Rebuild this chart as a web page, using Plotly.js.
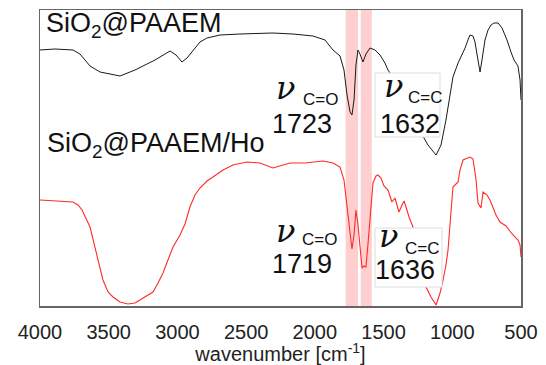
<!DOCTYPE html>
<html>
<head>
<meta charset="utf-8">
<script src="https://cdn.plot.ly/plotly-3.0.1.min.js"></script>
<style>html,body{margin:0;padding:0;background:#fff;}#chart{width:546px;height:365px;}</style>
</head>
<body>
<div id="chart"></div>
<script>
// wavenumber [cm-1] and relative transmittance (arbitrary, offset)
const wnBlack = [4000,3891,3760,3709,3636,3563,3418,3309,3163,3054,3010,2967,2930,2894,2836,2785,2690,2545,2305,2159,2014,1926,1868,1817,1788,1766,1744,1730,1715,1701,1686,1672,1650,1628,1599,1562,1526,1490,1468,1417,1344,1271,1228,1177,1118,1082,1046,1017,995,958,929,907,886,871,849,835,813,798,784,762,740,718,697,667,638,602,573,551,522,507,500];
const tBlack  = [256,257,256,252,240,234,230,236,246,255,251,244,248,254,264,268,271,272,273,272,270,266,256,250,236,211,194,191,206,241,256,252,244,252,258,256,251,243,236,226,206,184,173,161,151,161,186,211,229,243,251,258,266,271,270,264,246,234,246,266,276,281,283,283,278,266,254,246,240,226,206];

const wnRed = [4000,3891,3760,3723,3694,3636,3585,3542,3505,3469,3418,3360,3309,3272,3221,3178,3141,3105,3069,3032,2981,2945,2909,2872,2836,2785,2741,2668,2596,2494,2399,2348,2305,2232,2181,2072,1941,1868,1817,1788,1766,1744,1730,1715,1701,1686,1672,1657,1643,1628,1614,1599,1577,1555,1541,1519,1497,1468,1453,1439,1417,1402,1388,1366,1351,1330,1315,1286,1235,1191,1155,1118,1089,1067,1046,1031,1009,995,958,944,922,893,871,849,827,813,791,776,747,726,704,682,653,609,558,522,507,500];
const tRed  = [106,105,104,101,96,79,49,26,14,9,4,2,3,6,10,14,23,33,46,59,71,82,99,111,118,125,129,136,141,144,143,140,138,141,143,143,145,143,139,126,101,71,57,71,96,81,59,38,40,39,61,89,123,130,131,128,120,116,109,104,108,101,94,101,105,96,89,79,56,19,9,1,13,26,41,56,91,119,124,136,146,148,149,147,126,103,98,114,111,106,98,91,84,80,71,66,61,49];

const seriesNames = ["SiO<sub>2</sub>@PAAEM", "SiO<sub>2</sub>@PAAEM/Ho"];
const bandCO = [1776, 1686];
const bandCC = [1666, 1586];
const peaksTop = ["1723", "1632"];
const peaksBottom = ["1719", "1636"];
const tickVals = [4000,3500,3000,2500,2000,1500,1000,500];

const L = 40, R = 521, T = 10, B = 306;
const px = x => (x - L) / (R - L);
const py = y => (B - y) / (B - T);

const traces = [
  {x: wnBlack, y: tBlack, type: 'scatter', mode: 'lines', line: {color: '#1a1a1a', width: 1}, hoverinfo: 'skip'},
  {x: wnRed, y: tRed, type: 'scatter', mode: 'lines', line: {color: '#ff2a2a', width: 1.1}, hoverinfo: 'skip'}
];

const shapes = [
  {type: 'rect', xref: 'x', yref: 'paper', x0: bandCO[0], x1: bandCO[1], y0: -0.008, y1: 1, fillcolor: 'rgba(255,190,190,0.75)', line: {width: 0}, layer: 'below'},
  {type: 'rect', xref: 'x', yref: 'paper', x0: bandCC[0], x1: bandCC[1], y0: -0.008, y1: 1, fillcolor: 'rgba(255,190,190,0.75)', line: {width: 0}, layer: 'below'},
  {type: 'rect', xref: 'paper', yref: 'paper', x0: px(375), x1: px(440), y0: py(137), y1: py(73), fillcolor: '#ffffff', line: {color: '#dddddd', width: 1}, layer: 'above'},
  {type: 'rect', xref: 'paper', yref: 'paper', x0: px(375), x1: px(442), y0: py(287), y1: py(228), fillcolor: '#ffffff', line: {color: '#dddddd', width: 1}, layer: 'above'}
];

const sans = 'Liberation Sans, Arial, sans-serif';
const serif = 'DejaVu Serif, serif';
function ann(text, x, y, size, family, extra) {
  return Object.assign({text: text, xref: 'paper', yref: 'paper', x: px(x), y: py(y), xanchor: 'left', yanchor: 'middle', showarrow: false, font: {family: family, size: size, color: '#111'}}, extra || {});
}
const nu = '<i>ν</i>';
const annotations = [
  ann(seriesNames[0], 44, 25, 27, sans),
  ann(seriesNames[1], 45, 145, 27, sans),
  ann(nu, 274, 88, 32, serif),
  ann('C=O', 301, 99, 17, sans),
  ann(peaksTop[0], 270, 124, 27, sans),
  ann(nu, 382, 86, 32, serif),
  ann('C=C', 406, 98, 17, sans),
  ann(peaksTop[1], 378, 124, 27, sans),
  ann(nu, 274, 231, 32, serif),
  ann('C=O', 300, 239, 17, sans),
  ann(peaksBottom[0], 270, 264, 27, sans),
  ann(nu, 377, 236, 32, serif),
  ann('C=C', 403, 248, 17, sans),
  ann(peaksBottom[1], 373, 270, 27, sans)
];

const layout = {
  width: 546, height: 365,
  margin: {l: L, r: 546 - R, t: T, b: 365 - B},
  paper_bgcolor: '#ffffff', plot_bgcolor: '#ffffff',
  showlegend: false,
  xaxis: {
    range: [4000, 500], tickvals: tickVals, ticktext: tickVals.map(String),
    showgrid: false, zeroline: false, ticks: '', ticklabelstandoff: 7,
    showline: true, mirror: true, linecolor: '#666666', linewidth: 1.5,
    tickfont: {family: sans, size: 20, color: '#222'},
    title: {text: 'wavenumber [cm<sup>-1</sup>]', font: {family: sans, size: 20, color: '#222'}, standoff: 6}
  },
  yaxis: {
    range: [0, 296], showticklabels: false, showgrid: false, zeroline: false, ticks: '',
    showline: true, mirror: true, linecolor: '#666666', linewidth: 1.5
  },
  shapes: shapes,
  annotations: annotations
};

Plotly.newPlot('chart', traces, layout, {staticPlot: true, displayModeBar: false});
</script>
</body>
</html>
